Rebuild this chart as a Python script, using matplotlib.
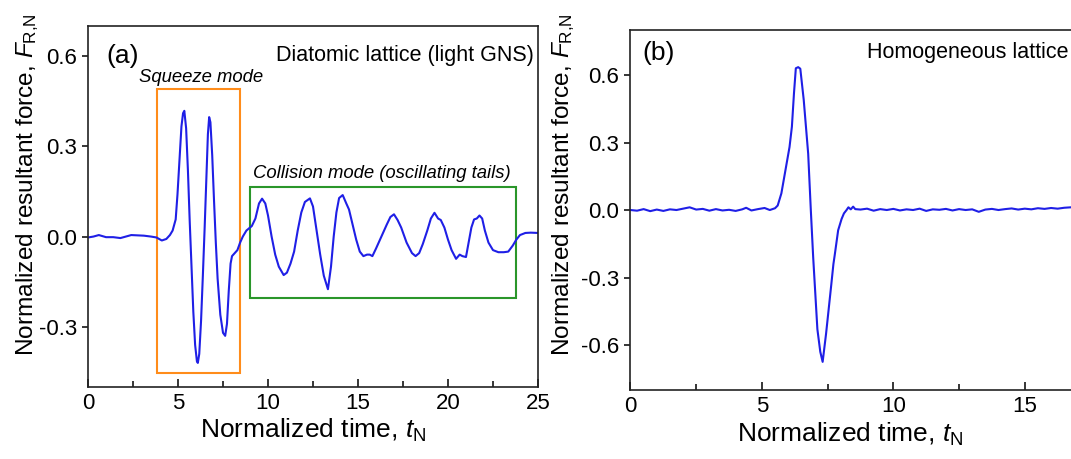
import matplotlib
matplotlib.use('Agg')
import matplotlib.pyplot as plt
from matplotlib.patches import Rectangle
from matplotlib.ticker import MultipleLocator

plt.rcParams['font.family'] = ['Liberation Sans', 'DejaVu Sans']
plt.rcParams['mathtext.fontset'] = 'custom'
plt.rcParams['mathtext.rm'] = 'Liberation Sans'
plt.rcParams['mathtext.it'] = 'Liberation Sans:italic'
plt.rcParams['axes.unicode_minus'] = False

# (a) diatomic lattice, light GNS
t_a = [0, 0.3, 0.6, 1.0, 1.4, 1.8, 2.1, 2.4, 2.8, 3.1, 3.5, 3.8, 4.1, 4.35, 4.55, 4.7,
       4.87, 4.97, 5.06, 5.19, 5.28, 5.35, 5.45, 5.55, 5.65, 5.75, 5.85, 5.95, 6.05, 6.1,
       6.18, 6.28, 6.38, 6.48, 6.58, 6.66, 6.73, 6.8, 6.9, 7.0, 7.1, 7.2, 7.35, 7.5, 7.62,
       7.72, 7.82, 7.92, 8.0, 8.15, 8.3, 8.45, 8.6, 8.8, 9.0, 9.1, 9.3, 9.5, 9.67, 9.85,
       10.0, 10.2, 10.4, 10.6, 10.87, 11.05, 11.25, 11.45, 11.65, 11.85, 12.05, 12.33, 12.5,
       12.7, 12.9, 13.1, 13.33, 13.5, 13.65, 13.8, 13.95, 14.15, 14.35, 14.5, 14.7, 14.9,
       15.1, 15.3, 15.5, 15.65, 15.8, 16.0, 16.3, 16.6, 16.8, 17.0, 17.2, 17.4, 17.7, 18.0,
       18.2, 18.4, 18.6, 18.85, 19.05, 19.25, 19.45, 19.6, 19.8, 20.0, 20.2, 20.45, 20.65,
       20.8, 21.0, 21.15, 21.3, 21.45, 21.6, 21.75, 21.9, 22.05, 22.25, 22.5, 22.8, 23.1,
       23.35, 23.6, 23.8, 24.0, 24.3, 24.6, 25.0]
f_a = [-0.003, 0.0, 0.005, -0.002, -0.002, -0.005, 0.0, 0.005, 0.004, 0.003, 0.0, -0.003,
       -0.013, -0.008, 0.005, 0.02, 0.057, 0.14, 0.23, 0.366, 0.41, 0.418, 0.36, 0.22, 0.05,
       -0.1, -0.25, -0.36, -0.415, -0.42, -0.39, -0.28, -0.13, 0.03, 0.2, 0.34, 0.397, 0.38,
       0.27, 0.12, -0.02, -0.14, -0.26, -0.32, -0.33, -0.29, -0.18, -0.09, -0.065, -0.055,
       -0.045, -0.02, 0.0, 0.02, 0.03, 0.035, 0.06, 0.11, 0.126, 0.11, 0.07, 0.0, -0.06,
       -0.1, -0.128, -0.12, -0.09, -0.05, 0.02, 0.08, 0.115, 0.127, 0.1, 0.02, -0.06, -0.13,
       -0.175, -0.1, 0.0, 0.08, 0.128, 0.138, 0.11, 0.09, 0.04, -0.01, -0.05, -0.065, -0.06,
       -0.06, -0.065, -0.04, 0.0, 0.04, 0.065, 0.074, 0.055, 0.03, -0.02, -0.055, -0.065,
       -0.055, -0.025, 0.02, 0.06, 0.079, 0.06, 0.055, 0.03, -0.01, -0.045, -0.074, -0.06,
       -0.065, -0.068, -0.02, 0.03, 0.057, 0.06, 0.07, 0.06, 0.02, -0.02, -0.045, -0.052,
       -0.052, -0.05, -0.03, -0.01, 0.005, 0.012, 0.013, 0.012]

# (b) homogeneous lattice
t_b = [0, 0.25, 0.5, 0.75, 1.0, 1.25, 1.5, 1.75, 2.0, 2.25, 2.5, 2.75, 3.0, 3.25, 3.5,
       3.75, 4.0, 4.25, 4.4, 4.6, 4.85, 5.1, 5.3, 5.5, 5.6, 5.74, 5.94, 6.05, 6.14, 6.22,
       6.29, 6.38, 6.46, 6.59, 6.76, 6.86, 6.95, 7.11, 7.22, 7.31, 7.44, 7.54, 7.64, 7.72,
       7.77, 7.9, 8.03, 8.12, 8.22, 8.29, 8.38, 8.47, 8.55, 8.75, 9.0, 9.25, 9.5, 9.75,
       10.0, 10.25, 10.5, 10.75, 11.0, 11.25, 11.5, 11.75, 12.0, 12.25, 12.5, 12.75, 13.0,
       13.25, 13.5, 13.75, 14.0, 14.25, 14.5, 14.75, 15.0, 15.25, 15.5, 15.75, 16.0, 16.25,
       16.5, 16.75, 17.0, 17.25, 17.5]
f_b = [0.0, -0.003, 0.004, -0.005, 0.002, -0.004, 0.003, 0.0, 0.006, 0.012, 0.002, 0.005,
       -0.003, 0.004, -0.002, 0.001, -0.004, 0.003, 0.01, -0.002, 0.004, 0.009, 0.0, 0.008,
       0.02, 0.074, 0.207, 0.28, 0.37, 0.52, 0.63, 0.635, 0.628, 0.49, 0.25, 0.0, -0.21,
       -0.53, -0.63, -0.675, -0.55, -0.44, -0.33, -0.24, -0.2, -0.09, -0.04, -0.015, 0.0,
       0.012, 0.003, 0.015, 0.004, 0.002, 0.006, -0.003, 0.004, 0.0, 0.005, -0.002, 0.003,
       0.0, 0.006, -0.004, 0.003, 0.001, 0.005, -0.002, 0.004, 0.0, 0.003, -0.008, 0.002,
       0.005, 0.0, 0.004, 0.007, 0.002, 0.006, 0.003, 0.008, 0.005, 0.009, 0.006, 0.01,
       0.012, 0.008, 0.011, 0.01]

blue = '#1f1fe6'

fig = plt.figure(figsize=(10.71, 4.59), dpi=100)
ax1 = fig.add_axes([0.0822, 0.1569, 0.4201, 0.7865])
ax2 = fig.add_axes([0.5887, 0.1503, 0.4295, 0.7843])

for ax in (ax1, ax2):
    for sp in ax.spines.values():
        sp.set_linewidth(1.2)
        sp.set_color('#222222')
    ax.xaxis.set_major_locator(MultipleLocator(5))
    ax.xaxis.set_minor_locator(MultipleLocator(2.5))
    ax.yaxis.set_major_locator(MultipleLocator(0.3))
    ax.tick_params(axis='x', which='major', direction='in', length=6, width=1.1,
                   labelsize=16, pad=4)
    ax.tick_params(axis='x', which='minor', direction='in', length=4, width=1.1)
    ax.tick_params(axis='y', which='major', direction='out', length=4, width=1.1,
                   labelsize=16, pad=4)
    ax.set_xlabel('Normalized time, $\\mathit{t}_{\\mathrm{N}}$', fontsize=19, labelpad=2)
    ax.set_ylabel('Normalized resultant force, $\\mathit{F}_{\\mathrm{R{,}N}}$', fontsize=17.6)

ax1.plot(t_a, f_a, color=blue, lw=1.5)
ax1.set_xlim(0, 25)
ax1.set_ylim(-0.5, 0.7)
ax1.set_yticks([-0.3, 0.0, 0.3, 0.6])
ax1.yaxis.set_label_coords(-0.104, 0.562)
ax1.add_patch(Rectangle((3.85, -0.453), 4.57, 0.943, fill=False, ec='#ff8c1a', lw=1.5))
ax1.add_patch(Rectangle((9.0, -0.205), 14.8, 0.369, fill=False, ec='#2a962a', lw=1.5))
ax1.text(6.3, 0.528, 'Squeeze mode', fontsize=13.3, style='italic', ha='center', va='center')
ax1.text(16.3, 0.21, 'Collision mode (oscillating tails)', fontsize=13.3, style='italic',
         ha='center', va='center')
ax1.text(1.0, 0.6, '(a)', fontsize=19, ha='left', va='center')
ax1.text(24.8, 0.603, 'Diatomic lattice (light GNS)', fontsize=15.5, ha='right', va='center')

ax2.plot(t_b, f_b, color=blue, lw=1.5)
ax2.set_xlim(0, 17.5)
ax2.set_ylim(-0.8, 0.8)
ax2.set_yticks([-0.6, -0.3, 0.0, 0.3, 0.6])
ax2.spines['right'].set_visible(False)
ax2.yaxis.set_label_coords(-0.116, 0.572)
ax2.xaxis.set_label_coords(0.478, -0.085)
ax2.text(0.45, 0.7, '(b)', fontsize=19, ha='left', va='center')
ax2.text(16.65, 0.7, 'Homogeneous lattice', fontsize=15.5, ha='right', va='center')

fig.savefig('out.png', dpi=100)
